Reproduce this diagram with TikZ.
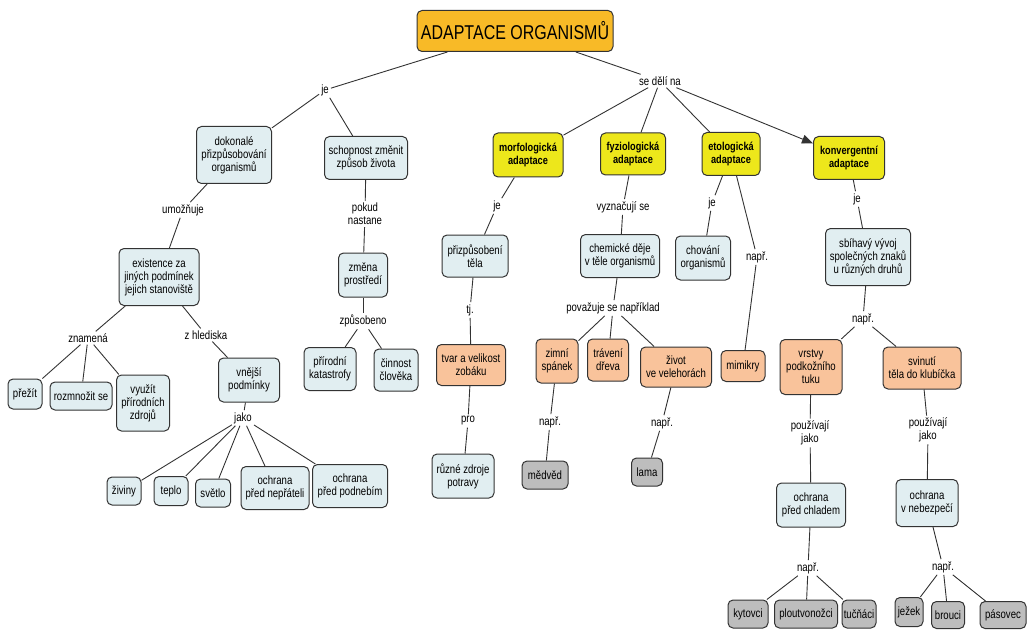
\documentclass[tikz,border=0pt]{standalone}
\usepackage{fontspec}
\setmainfont{Liberation Sans}[FakeStretch=0.8]
\usetikzlibrary{arrows.meta}

\definecolor{rootfill}{HTML}{F8BA27}
\definecolor{yellowfill}{HTML}{EDE71B}
\definecolor{bluefill}{HTML}{E1EEF1}
\definecolor{peachfill}{HTML}{F9C39B}
\definecolor{grayfill}{HTML}{BDBDBD}
\definecolor{edgegray}{HTML}{333333}

\tikzset{
  concept/.style={draw=edgegray, line width=1pt, rounded corners=5pt, align=center,
    inner sep=1pt, font=\fontsize{12}{13}\selectfont},
  cblue/.style={concept, fill=bluefill},
  cpeach/.style={concept, fill=peachfill},
  cgray/.style={concept, fill=grayfill},
  cyellow/.style={concept, fill=yellowfill, font=\fontsize{11.5}{13}\selectfont\bfseries},
  croot/.style={concept, fill=rootfill, font=\fontsize{20}{22}\selectfont},
  link/.style={inner sep=2pt, align=center, font=\fontsize{12}{13}\selectfont},
  conn/.style={draw=edgegray, line width=0.9pt},
  arrowconn/.style={conn, -{Triangle[length=11pt,width=9pt]}}
}

\begin{document}
\begin{tikzpicture}[x=1pt,y=-1pt]
\useasboundingbox (0,0) rectangle (1027,631);

% concepts
\node[croot, minimum width=196pt, minimum height=41pt] (root) at (515,31) {ADAPTACE ORGANISMŮ};

\node[cblue, minimum width=75pt, minimum height=57pt] (dok) at (234,155) {dokonalé\\přizpůsobování\\organismů};
\node[cblue, minimum width=83pt, minimum height=43pt] (schop) at (366,158) {schopnost změnit\\způsob života};
\node[cyellow, minimum width=70pt, minimum height=44pt] (morf) at (528,155) {morfologická\\adaptace};
\node[cyellow, minimum width=65pt, minimum height=42pt] (fyz) at (633,154) {fyziologická\\adaptace};
\node[cyellow, minimum width=58pt, minimum height=43pt] (etol) at (731,154) {etologická\\adaptace};
\node[cyellow, minimum width=71pt, minimum height=43pt] (konv) at (849,158) {konvergentní\\adaptace};

\node[cblue, minimum width=80pt, minimum height=57pt] (exist) at (159,277) {existence za\\jiných podmínek\\jejich stanoviště};
\node[cblue, minimum width=34pt, minimum height=30pt] (prezit) at (25,394) {přežít};
\node[cblue, minimum width=62pt, minimum height=28pt] (rozm) at (81,396) {rozmnožit se};
\node[cblue, minimum width=53pt, minimum height=56pt] (vyuz) at (143,403) {využít\\přírodních\\zdrojů};
\node[cblue, minimum width=61pt, minimum height=44pt] (vnej) at (249,380) {vnější\\podmínky};
\node[cblue, minimum width=34pt, minimum height=28pt] (ziv) at (124,491) {živiny};
\node[cblue, minimum width=34pt, minimum height=29pt] (teplo) at (171,491) {teplo};
\node[cblue, minimum width=35pt, minimum height=28pt] (svetlo) at (213,493) {světlo};
\node[cblue, minimum width=68pt, minimum height=43pt] (nepr) at (275,488) {ochrana\\před nepřáteli};
\node[cblue, minimum width=75pt, minimum height=43pt] (podn) at (350,486) {ochrana\\před podnebím};

\node[cblue, minimum width=49pt, minimum height=44pt] (zmena) at (363,275) {změna\\prostředí};
\node[cblue, minimum width=52pt, minimum height=43pt] (katas) at (330,369) {přírodní\\katastrofy};
\node[cblue, minimum width=44pt, minimum height=42pt] (cinn) at (396,370) {činnost\\člověka};

\node[cblue, minimum width=66pt, minimum height=42pt] (telo) at (475,256) {přizpůsobení\\těla};
\node[cpeach, minimum width=69pt, minimum height=41pt] (tvar) at (471,365) {tvar a velikost\\zobáku};
\node[cblue, minimum width=62pt, minimum height=44pt] (zdroje) at (463,476) {různé zdroje\\potravy};

\node[cblue, minimum width=79pt, minimum height=43pt] (chem) at (620,256) {chemické děje\\v těle organismů};
\node[cpeach, minimum width=42pt, minimum height=44pt] (zimni) at (557,361) {zimní\\spánek};
\node[cpeach, minimum width=41pt, minimum height=42pt] (trav) at (608,360) {trávení\\dřeva};
\node[cpeach, minimum width=71pt, minimum height=40pt] (zivot) at (676,367) {život\\ve velehorách};
\node[cgray, minimum width=46pt, minimum height=28pt] (medv) at (545,475) {mědvěd};
\node[cgray, minimum width=31pt, minimum height=28pt] (lama) at (647,472) {lama};

\node[cblue, minimum width=55pt, minimum height=44pt] (chov) at (703,258) {chování\\organismů};
\node[cpeach, minimum width=44pt, minimum height=31pt] (mimik) at (743,366) {mimikry};

\node[cblue, minimum width=85pt, minimum height=57pt] (sbih) at (868,257) {sbíhavý vývoj\\společných znaků\\u různých druhů};
\node[cpeach, minimum width=62pt, minimum height=55pt] (vrst) at (811,367) {vrstvy\\podkožního\\tuku};
\node[cpeach, minimum width=78pt, minimum height=42pt] (svin) at (922,368) {svinutí\\těla do klubíčka};
\node[cblue, minimum width=69pt, minimum height=44pt] (chlad) at (811,505) {ochrana\\před chladem};
\node[cblue, minimum width=62pt, minimum height=47pt] (nebez) at (927,503) {ochrana\\v nebezpečí};
\node[cgray, minimum width=40pt, minimum height=28pt] (kyt) at (748,614) {kytovci};
\node[cgray, minimum width=63pt, minimum height=28pt] (plout) at (806,614) {ploutvonožci};
\node[cgray, minimum width=34pt, minimum height=28pt] (tucn) at (859,614) {tučňáci};
\node[cgray, minimum width=28pt, minimum height=29pt] (jez) at (909,612) {ježek};
\node[cgray, minimum width=33pt, minimum height=27pt] (brou) at (948,615) {brouci};
\node[cgray, minimum width=46pt, minimum height=27pt] (pasov) at (1003,615) {pásovec};

% linking phrases
\node[link] (je1) at (325,90) {je};
\node[link] (sedeli) at (660,81) {se dělí na};
\node[link] (umoz) at (183,210) {umožňuje};
\node[link] (znam) at (88,338) {znamená};
\node[link] (zhled) at (206,335) {z hlediska};
\node[link] (jako1) at (243,418) {jako};
\node[link] (pokud) at (365,214) {pokud\\nastane};
\node[link] (zpus) at (363,321) {způsobeno};
\node[link] (je2) at (497,206) {je};
\node[link] (tj) at (470,310) {tj.};
\node[link] (pro) at (468,421) {pro};
\node[link] (vyzn) at (623,207) {vyznačují se};
\node[link] (povaz) at (613,308) {považuje se například};
\node[link] (napr1) at (550,422) {např.};
\node[link] (napr2) at (662,423) {např.};
\node[link] (je3) at (712,203) {je};
\node[link] (napr3) at (757,257) {např.};
\node[link] (je4) at (857,199) {je};
\node[link] (napr4) at (863,319) {např.};
\node[link] (pouz1) at (810,433) {používají\\jako};
\node[link] (pouz2) at (928,430) {používají\\jako};
\node[link] (napr5) at (808,568) {např.};
\node[link] (napr6) at (943,567) {např.};

% connectors
\draw[conn] (root) -- (je1);
\draw[conn] (je1) -- (dok);
\draw[conn] (je1) -- (schop);
\draw[conn] (root) -- (sedeli);
\draw[conn] (sedeli) -- (morf);
\draw[conn] (sedeli) -- (fyz);
\draw[conn] (sedeli) -- (etol);
\draw[arrowconn] (sedeli) -- (konv);

\draw[conn] (dok) -- (umoz);
\draw[conn] (umoz) -- (exist);
\draw[conn] (exist) -- (znam);
\draw[conn] (znam) -- (prezit);
\draw[conn] (znam) -- (rozm);
\draw[conn] (znam) -- (vyuz);
\draw[conn] (exist) -- (zhled);
\draw[conn] (zhled) -- (vnej);
\draw[conn] (vnej) -- (jako1);
\draw[conn] (jako1) -- (ziv);
\draw[conn] (jako1) -- (teplo);
\draw[conn] (jako1) -- (svetlo);
\draw[conn] (jako1) -- (nepr);
\draw[conn] (jako1) -- (podn);

\draw[conn] (schop) -- (pokud);
\draw[conn] (pokud) -- (zmena);
\draw[conn] (zmena) -- (zpus);
\draw[conn] (zpus) -- (katas);
\draw[conn] (zpus) -- (cinn);

\draw[conn] (morf) -- (je2);
\draw[conn] (je2) -- (telo);
\draw[conn] (telo) -- (tj);
\draw[conn] (tj) -- (tvar);
\draw[conn] (tvar) -- (pro);
\draw[conn] (pro) -- (zdroje);

\draw[conn] (fyz) -- (vyzn);
\draw[conn] (vyzn) -- (chem);
\draw[conn] (chem) -- (povaz);
\draw[conn] (povaz) -- (zimni);
\draw[conn] (povaz) -- (trav);
\draw[conn] (povaz) -- (zivot);
\draw[conn] (zimni) -- (napr1);
\draw[conn] (napr1) -- (medv);
\draw[conn] (zivot) -- (napr2);
\draw[conn] (napr2) -- (lama);

\draw[conn] (etol) -- (je3);
\draw[conn] (je3) -- (chov);
\draw[conn] (etol) -- (napr3);
\draw[conn] (napr3) -- (mimik);

\draw[conn] (konv) -- (je4);
\draw[conn] (je4) -- (sbih);
\draw[conn] (sbih) -- (napr4);
\draw[conn] (napr4) -- (vrst);
\draw[conn] (napr4) -- (svin);
\draw[conn] (vrst) -- (pouz1);
\draw[conn] (pouz1) -- (chlad);
\draw[conn] (chlad) -- (napr5);
\draw[conn] (napr5) -- (kyt);
\draw[conn] (napr5) -- (plout);
\draw[conn] (napr5) -- (tucn);
\draw[conn] (svin) -- (pouz2);
\draw[conn] (pouz2) -- (nebez);
\draw[conn] (nebez) -- (napr6);
\draw[conn] (napr6) -- (jez);
\draw[conn] (napr6) -- (brou);
\draw[conn] (napr6) -- (pasov);
\end{tikzpicture}
\end{document}
